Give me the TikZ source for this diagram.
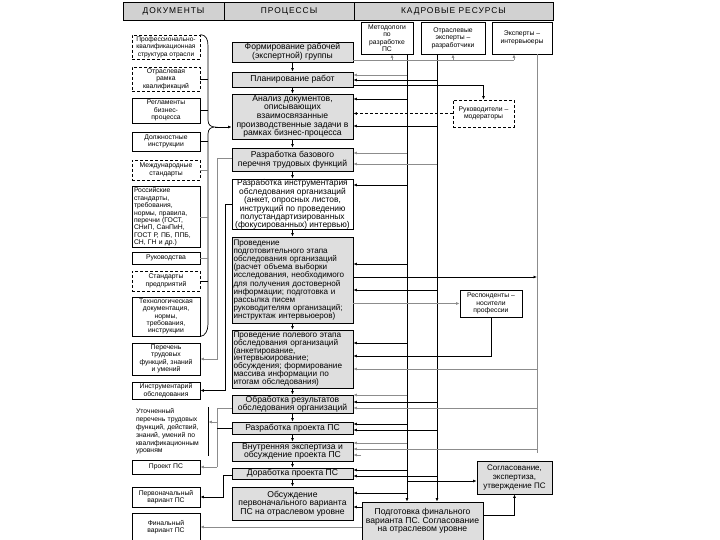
\documentclass[tikz,border=0pt]{standalone}
\usepackage{fontspec}
\setmainfont{Liberation Sans}
\newfontfamily\hdrfont[LetterSpace=12]{Liberation Sans}
\usetikzlibrary{arrows.meta}
\begin{document}
\begin{tikzpicture}[x=1pt,y=-1pt,
  hdr/.style={draw, line width=0.8pt, fill=black!18, inner sep=0pt, minimum height=18, font=\hdrfont\fontsize{8.4}{9}\selectfont},
  proc/.style={draw, line width=0.9pt, fill=black!13, inner xsep=2pt, inner ysep=0pt, minimum width=121, align=center, font=\fontsize{8.6}{8.6}\selectfont},
  procw/.style={proc, fill=white},
  procl/.style={proc, align=left, inner xsep=1.5pt, text width=118},
  doc/.style={draw, line width=0.8pt, inner sep=1pt, minimum width=68, align=center, font=\fontsize{6.8}{7.4}\selectfont},
  docd/.style={doc, dash pattern=on 3pt off 2pt},
  arr/.style={-{Latex[length=3.5pt,width=3pt]}, line width=0.7pt},
  garr/.style={arr, draw=black!45},
  gline/.style={line width=0.7pt, draw=black!45},
  bline/.style={line width=0.7pt},
  dline/.style={dash pattern=on 3pt off 2pt}]
\clip (0,0) rectangle (720,540);
\fill[white] (0,0) rectangle (720,540);

% header
\node[hdr, minimum width=101] (h1) at (173.5,11) {ДОКУМЕНТЫ};
\node[hdr, minimum width=130] (h2) at (289,11) {ПРОЦЕССЫ};
\node[hdr, minimum width=199] (h3) at (453.5,11) {КАДРОВЫЕ РЕСУРСЫ};

% resources
\node[doc, minimum width=52, minimum height=32] (r1) at (387,38) {Методологи\\по\\разработке\\ПС};
\node[doc, minimum width=64, minimum height=32] (r2) at (453,38) {Отраслевые\\эксперты –\\разработчики};
\node[doc, minimum width=60, minimum height=32] (r3) at (522,38) {Эксперты –\\интервьюеры};
\node[docd, minimum width=61, minimum height=27] (rm) at (483.5,113.5) {Руководители –\\модераторы};
\node[doc, minimum width=62, minimum height=27] (rs) at (491,303.5) {Респонденты –\\носители\\профессии};

% processes
\node[proc, minimum height=20] (p1) at (292.5,52) {Формирование рабочей\\(экспертной) группы};
\node[proc, minimum height=15] (p2) at (292.5,79.5) {Планирование работ};
\node[proc, minimum height=45] (p3) at (292.5,116.5) {Анализ документов,\\описывающих\\взаимосвязанные\\производственные задачи в\\рамках бизнес-процесса};
\node[proc, minimum height=23] (p4) at (292.5,159.5) {Разработка базового\\перечня трудовых функций};
\node[procw, minimum height=50, font=\fontsize{8.4}{7.9}\selectfont] (p5) at (292.5,204) {Разработка инструментария\\обследования организаций\\(анкет, опросных листов,\\инструкций по проведению\\полустандартизированных\\(фокусированных) интервью)};
\node[procl, minimum height=86, font=\fontsize{8.1}{8.2}\selectfont] (p6) at (292.5,280) {Проведение\\подготовительного этапа\\обследования организаций\\(расчет объема выборки\\исследования, необходимого\\для получения достоверной\\информации; подготовка и\\рассылка писем\\руководителям организаций;\\инструктаж интервьюеров)};
\node[procl, minimum height=58, font=\fontsize{8.2}{7.8}\selectfont] (p7) at (292.5,359) {Проведение полевого этапа\\обследования организаций\\(анкетирование,\\интервьюирование;\\обсуждения; формирование\\массива информации по\\итогам обследования)};
\node[proc, minimum height=18, font=\fontsize{8.6}{8.3}\selectfont] (p8) at (292.5,404) {Обработка результатов\\обследования организаций};
\node[proc, minimum height=12] (p9) at (292.5,428) {Разработка проекта ПС};
\node[proc, minimum height=19] (p10) at (292.5,451.5) {Внутренняя экспертиза и\\обсуждение проекта ПС};
\node[proc, minimum height=11] (p11) at (292.5,473.5) {Доработка проекта ПС};
\node[proc, minimum height=33] (p12) at (292.5,503.5) {Обсуждение\\первоначального варианта\\ПС на отраслевом уровне};
\node[proc, minimum height=38] (p13) at (422.5,521) {Подготовка финального\\варианта ПС. Согласование\\на отраслевом уровне};
\node[proc, minimum width=75, minimum height=33, font=\fontsize{8}{8.6}\selectfont] (sg) at (514.5,477.5) {Согласование,\\экспертиза,\\утверждение ПС};

% documents
\node[docd, minimum height=24, font=\fontsize{6.6}{7.4}\selectfont] (d1) at (166,47) {Профессионально-\\квалификационная\\структура отрасли};
\node[docd, minimum height=24] (d2) at (166,79) {Отраслевая\\рамка\\квалификаций};
\node[doc, minimum height=25] (d3) at (166,110.5) {Регламенты\\бизнес-\\процесса};
\node[doc, minimum height=19] (d4) at (166,141.5) {Должностные\\инструкции};
\node[docd, minimum height=20] (d5) at (166,170) {Международные\\стандарты};
\node[doc, minimum height=60, align=left, text width=64] (d6) at (166,217) {Российские\\стандарты,\\требования,\\нормы, правила,\\перечни (ГОСТ,\\СНиП, СанПиН,\\ГОСТ Р, ПБ, ППБ,\\СН, ГН и др.)};
\node[doc, minimum height=12] (d7) at (166,258) {Руководства};
\node[docd, minimum height=20] (d8) at (166,281) {Стандарты\\предприятий};
\node[doc, minimum height=39] (d9) at (166,316.5) {Технологическая\\документация,\\нормы,\\требования,\\инструкции};
\node[doc, minimum height=32] (d10) at (166,359) {Перечень\\трудовых\\функций, знаний\\и умений};
\node[doc, minimum height=17] (d11) at (166,390.5) {Инструментарий\\обследования};
\node[doc, draw=none, align=left, text width=71, minimum height=47, font=\fontsize{6.8}{7.8}\selectfont] (d12) at (171.5,431.5) {Уточненный\\перечень трудовых\\функций, действий,\\знаний, умений по\\квалификационным\\уровням};
\draw[bline] (d12.north east) -- (d12.south east);
\node[doc, minimum height=14] (d13) at (166,467) {Проект ПС};
\node[doc, minimum height=20] (d14) at (166,497) {Первоначальный\\вариант ПС};
\node[doc, minimum height=28] (d15) at (166,527) {Финальный\\вариант ПС};

% brace
\coordinate (bx) at (208,0);
\coordinate (bt) at (215,127);
\draw[bline] (d1.north east) .. controls (206,35) and (208,39) .. (208,46) -- (208,120)
  .. controls (208,125) and (211,127) .. (bt)
  .. controls (211,127) and (208,129) .. (208,134) -- (208,324)
  .. controls (208,331) and (205,336) .. (d9.south east);
\draw[arr] (bt) -- (bt -| p3.west);
\foreach \d in {d2,d3,d4,d8} \draw[bline] (\d.east) -- (bx |- \d.east);
\foreach \d in {d5,d6,d7} \draw[gline] (\d.east) -- (bx |- \d.east);

% process flow
\foreach \a/\b in {p1/p2,p2/p3,p3/p4,p4/p5,p5/p6,p6/p7,p7/p8,p8/p9,p9/p10,p10/p11,p11/p12}
  \draw[arr] (\a) -- (\b);

% left connections
\coordinate (l1) at (217,0);
\coordinate (l2) at (225,0);
\coordinate (l3) at (223,0);
\draw[garr] (p4.west |- 0,158) -- (l1 |- 0,158) -- (l1 |- d10.east) -- (d10.east);
\draw[arr] (p5.west) -- (l2 |- p5.west) -- (l2 |- d11.east) -- (d11.east);
\draw[gline] (p8.west |- 0,408) -- (l1 |- 0,408) -- (l1 |- d13.east);
\draw[garr] (l1 |- d13.east) -- (d13.east);
\draw[garr] (l1 |- 0,422) -- (d12.east |- 0,422);
\draw[bline] (p9.west) -- (l1 |- p9.west);
\draw[arr] (p11.west |- 0,475) -- (l3 |- 0,475) -- (l3 |- d14.east) -- (d14.east);
\draw[garr] (p13.west |- 0,527) -- (d15.east |- 0,527);

% resource verticals
\coordinate (v1) at (407,0);
\coordinate (v2) at (437,0);
\coordinate (v3) at (537,0);
\draw[arr] (v1 |- r1.south) -- (v1 |- p13.north);
\draw[arr] (v2 |- r2.south) -- (v2 |- p13.north);
\draw[gline] (v3 |- r3.south) -- (v3 |- 0,453);

% formation of group
\coordinate (g1) at (392,60);
\coordinate (g2) at (453,60);
\coordinate (g3) at (514,60);
\draw[gline] (p1.east |- g3) -- (g3);
\foreach \g/\r in {g1/r1,g2/r2,g3/r3} \draw[garr] (\g) -- (\g |- \r.south);

% planning
\draw[garr] (v1 |- 0,75) -- (p2.east |- 0,75);
\draw[arr] (v2 |- 0,80) -- (p2.east |- 0,80);
\draw[arr] (p2.east |- 0,85) -| (rm.north);
% analysis
\draw[arr] (v1 |- 0,99) -- (p3.east |- 0,99);
\draw[arr, dline] (rm.west) -- (p3.east |- rm.west);
\draw[arr] (v2 |- 0,126) -- (p3.east |- 0,126);
% base list
\draw[garr] (v1 |- 0,153) -- (p4.east |- 0,153);
\draw[garr] (v2 |- 0,164) -- (p4.east |- 0,164);
% tools
\draw[arr] (v1 |- 0,185) -- (p5.east |- 0,185);
% preparatory
\draw[arr] (v1 |- 0,264) -- (p6.east |- 0,264);
\draw[arr] (p6.east |- 0,277) -- (v3 |- 0,277);
\draw[arr] (v2 |- 0,290) -- (p6.east |- 0,290);
\draw[garr] (p6.east |- rs.west) -- (rs.west);
% field
\draw[arr] (v1 |- 0,343) -- (p7.east |- 0,343);
\draw[arr] (rs.south) |- (p7.east |- 0,356);
\draw[garr] (v3 |- 0,369) -- (p7.east |- 0,369);
% processing
\draw[garr] (v1 |- 0,395) -- (p8.east |- 0,395);
\draw[arr] (v2 |- 0,402) -- (p8.east |- 0,402);
\draw[garr] (v3 |- 0,408) -- (p8.east |- 0,408);
% draft
\draw[arr] (v1 |- 0,424) -- (p9.east |- 0,424);
\draw[arr] (v2 |- 0,430) -- (p9.east |- 0,430);
% internal review
\coordinate (st) at (361,455);
\draw[garr] (v1 |- 0,443) -- (p10.east |- 0,443);
\draw[garr] (v3 |- 0,449) -- (p10.east |- 0,449);
\draw[garr] (st) -- (p10.east |- st);
% revision
\draw[arr] (v1 |- 0,470) -- (p11.east |- 0,470);
\draw[arr] (v2 |- 0,476) -- (p11.east |- 0,476);
\draw[arr] (v1 |- 0,481) -- (sg.west |- 0,481);
% discussion
\draw[arr] (v1 |- 0,493) -- (p12.east |- 0,493);
\draw[arr] (p13.west |- 0,507) -- (p12.east |- 0,507);
\draw[arr] (p13.east |- 0,515) -| (sg.south);
\end{tikzpicture}
\end{document}
